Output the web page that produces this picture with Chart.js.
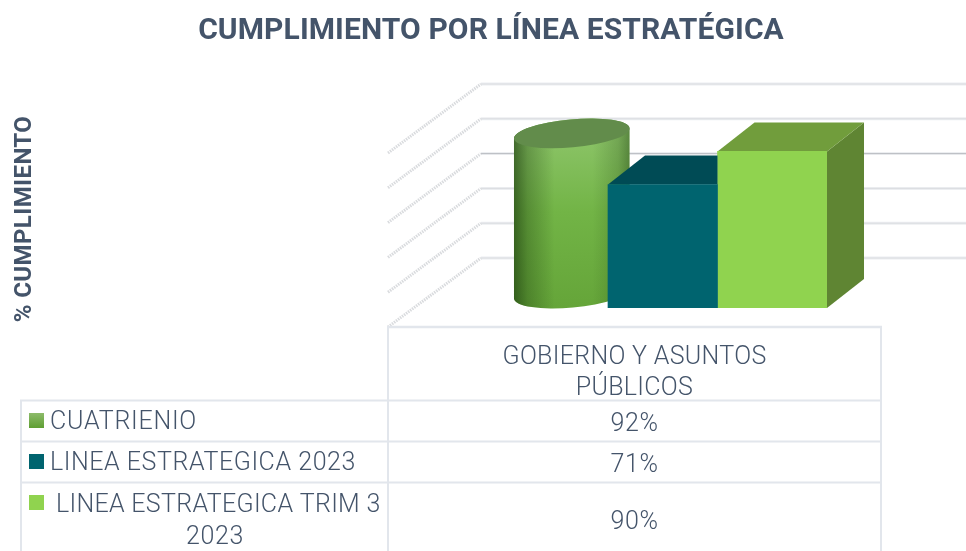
<!DOCTYPE html>
<html>
<head>
<meta charset="utf-8">
<style>
  html, body { margin: 0; padding: 0; background: #fff; }
  #wrap { width: 966px; height: 551px; overflow: hidden; }
</style>
<script src="https://cdn.jsdelivr.net/npm/chart.js@4"></script>
</head>
<body>
<div id="wrap"><canvas id="chart" width="966" height="551"></canvas></div>
<script>
const chartTitle = 'CUMPLIMIENTO POR LÍNEA ESTRATÉGICA';
const axisTitle = '% CUMPLIMIENTO';
const categories = ['GOBIERNO Y ASUNTOS PÚBLICOS'];
const categoryLines = ['GOBIERNO Y ASUNTOS', 'PÚBLICOS'];
const seriesNames = ['CUATRIENIO', 'LINEA ESTRATEGICA 2023', 'LINEA ESTRATEGICA TRIM 3 2023'];
const cuatrienio = [92];
const linea2023 = [71];
const lineaTrim3 = [90];
const axisTicks = [0, 20, 40, 60, 80, 100];

const textColor = '#44546a';
const tableLine = '#e2e6ec';

function text(ctx, str, x, y, font, align, spacing) {
    ctx.font = font;
    ctx.fillStyle = textColor;
    ctx.textAlign = align;
    ctx.textBaseline = 'alphabetic';
    ctx.letterSpacing = spacing || '0px';
    ctx.fillText(str, x, y);
    ctx.letterSpacing = '0px';
}

function line(ctx, x1, y1, x2, y2, color, width) {
    ctx.strokeStyle = color;
    ctx.lineWidth = width;
    ctx.beginPath();
    ctx.moveTo(x1, y1);
    ctx.lineTo(x2, y2);
    ctx.stroke();
}

function poly(ctx, pts, color) {
    ctx.fillStyle = color;
    ctx.beginPath();
    pts.forEach((p, i) => i ? ctx.lineTo(p[0], p[1]) : ctx.moveTo(p[0], p[1]));
    ctx.closePath();
    ctx.fill();
}

// depth of the bars inside the 3d box
const dx = 37, dy = 29;

function drawCylinder(ctx, bar) {
    const cx = bar.x + dx / 2;
    const top = bar.y - dy / 2;
    const bottom = bar.base - dy / 2;
    const rx = 58, ry = 14, rot = -0.09;
    const body = () => {
        ctx.beginPath();
        ctx.ellipse(cx, bottom, rx, ry, rot, 0, Math.PI);
        ctx.ellipse(cx, top, rx, ry, rot, Math.PI, Math.PI * 2);
        ctx.closePath();
    };
    const v = ctx.createLinearGradient(0, top, 0, bottom + ry);
    v.addColorStop(0, '#8cc468');
    v.addColorStop(0.45, '#72b446');
    v.addColorStop(1, '#65a539');
    body();
    ctx.fillStyle = v;
    ctx.fill();
    const h = ctx.createLinearGradient(cx - rx, 0, cx + rx, 0);
    h.addColorStop(0, 'rgba(20,50,10,0.62)');
    h.addColorStop(0.12, 'rgba(20,50,10,0.3)');
    h.addColorStop(0.35, 'rgba(20,50,10,0)');
    h.addColorStop(0.68, 'rgba(20,50,10,0)');
    h.addColorStop(0.9, 'rgba(20,50,10,0.2)');
    h.addColorStop(1, 'rgba(20,50,10,0.42)');
    body();
    ctx.fillStyle = h;
    ctx.fill();
    ctx.beginPath();
    ctx.ellipse(cx, top, rx, ry, rot, 0, Math.PI * 2);
    ctx.fillStyle = '#628c4b';
    ctx.fill();
}

function drawBox(ctx, bar, topColor, sideColor) {
    const l = bar.x - bar.width / 2, r = bar.x + bar.width / 2;
    poly(ctx, [[r, bar.base], [r + dx, bar.base - dy], [r + dx, bar.y - dy], [r, bar.y]], sideColor);
    poly(ctx, [[l, bar.y], [l + dx, bar.y - dy], [r + dx, bar.y - dy], [r, bar.y]], topColor);
}

// teal box sits against the green one, so only the part left of its front edge shows
function drawTealTop(ctx, bar, color) {
    const l = bar.x - bar.width / 2, r = bar.x + bar.width / 2;
    poly(ctx, [[l, bar.y], [l + dx, bar.y - dy], [r, bar.y - dy], [r, bar.y]], color);
}

const box3d = {
    id: 'box3d',
    // walls and gridlines sit behind the bars
    beforeDatasetsDraw(chart) {
        const ctx = chart.ctx, y = chart.scales.y;
        ctx.save();
        axisTicks.forEach(t => {
            const py = y.getPixelForValue(t);
            line(ctx, 481, py - 50, 966, py - 50, '#eceef1', 3);
            line(ctx, 481, py - 50, 966, py - 50, t === 60 ? '#b9bcc2' : '#dadce0', 1);
            ctx.setLineDash([1.5, 1]);
            line(ctx, 388, t ? py + 19 : 327, 481, py - 50, '#d9dbde', 3);
            ctx.setLineDash([]);
        });
        drawCylinder(ctx, chart.getDatasetMeta(0).data[0]);
        ctx.restore();
    },
    beforeDatasetDraw(chart, args) {
        const ctx = chart.ctx;
        const bar = chart.getDatasetMeta(args.index).data[0];
        ctx.save();
        if (args.index === 1) drawTealTop(ctx, bar, '#004b55');
        if (args.index === 2) drawBox(ctx, bar, '#719d3c', '#5f8533');
        ctx.restore();
    },
    afterDraw(chart) {
        const ctx = chart.ctx;
        ctx.save();
        // title and vertical axis title
        text(ctx, chartTitle, 491, 39, 'bold 30px Roboto, sans-serif', 'center', '0.1px');
        ctx.save();
        ctx.translate(31, 219);
        ctx.rotate(-Math.PI / 2);
        text(ctx, axisTitle, 0, 0, 'bold 24px Roboto, sans-serif', 'center', '0.4px');
        ctx.restore();

        // data table under the plot
        line(ctx, 387, 327, 882, 327, tableLine, 2.5);
        line(ctx, 388, 327, 388, 551, tableLine, 2);
        line(ctx, 881, 327, 881, 551, tableLine, 2);
        line(ctx, 21, 400, 21, 551, tableLine, 2);
        [400.5, 441.5, 482.5].forEach(py => line(ctx, 20, py, 882, py, tableLine, 2));

        const f = '300 25px Roboto, sans-serif';
        categoryLines.forEach((s, i) => text(ctx, s, 634.5, 364 + i * 31, f, 'center', '0.3px'));

        const values = [cuatrienio, linea2023, lineaTrim3];
        const valueY = [431, 472, 529];
        values.forEach((v, i) => text(ctx, v[0] + '%', 634.5, valueY[i], f, 'center', '0.6px'));

        const grad = ctx.createLinearGradient(0, 413, 0, 428);
        grad.addColorStop(0, '#8dbb6a');
        grad.addColorStop(1, '#5f9f33');
        [grad, '#00646f', '#90d34f'].forEach((c, i) => {
            ctx.fillStyle = c;
            ctx.fillRect(29, 413 + i * 41, 15, 15);
        });
        text(ctx, seriesNames[0], 50, 429, f, 'left', '0.75px');
        text(ctx, seriesNames[1], 50, 470, f, 'left', '0.55px');
        text(ctx, 'LINEA ESTRATEGICA TRIM 3', 56, 512, f, 'left', '0.3px');
        text(ctx, '2023', 215, 544, f, 'center', '0.6px');
        ctx.restore();
    }
};

new Chart(document.getElementById('chart'), {
    type: 'bar',
    data: {
        labels: categories,
        datasets: [
            { label: seriesNames[0], data: cuatrienio, backgroundColor: 'rgba(0,0,0,0)' },
            { label: seriesNames[1], data: linea2023, backgroundColor: '#00646f' },
            { label: seriesNames[2], data: lineaTrim3, backgroundColor: '#90d34f' }
        ]
    },
    options: {
        responsive: false,
        animation: false,
        layout: { padding: { left: 498.5, right: 139, top: 134, bottom: 243 } },
        datasets: { bar: { categoryPercentage: 1, barPercentage: 1 } },
        plugins: { legend: { display: false }, title: { display: false }, tooltip: { enabled: false } },
        scales: {
            x: { display: false },
            y: { display: false, min: 0, max: 100, ticks: { stepSize: 20 } }
        }
    },
    plugins: [box3d]
});
</script>
</body>
</html>
